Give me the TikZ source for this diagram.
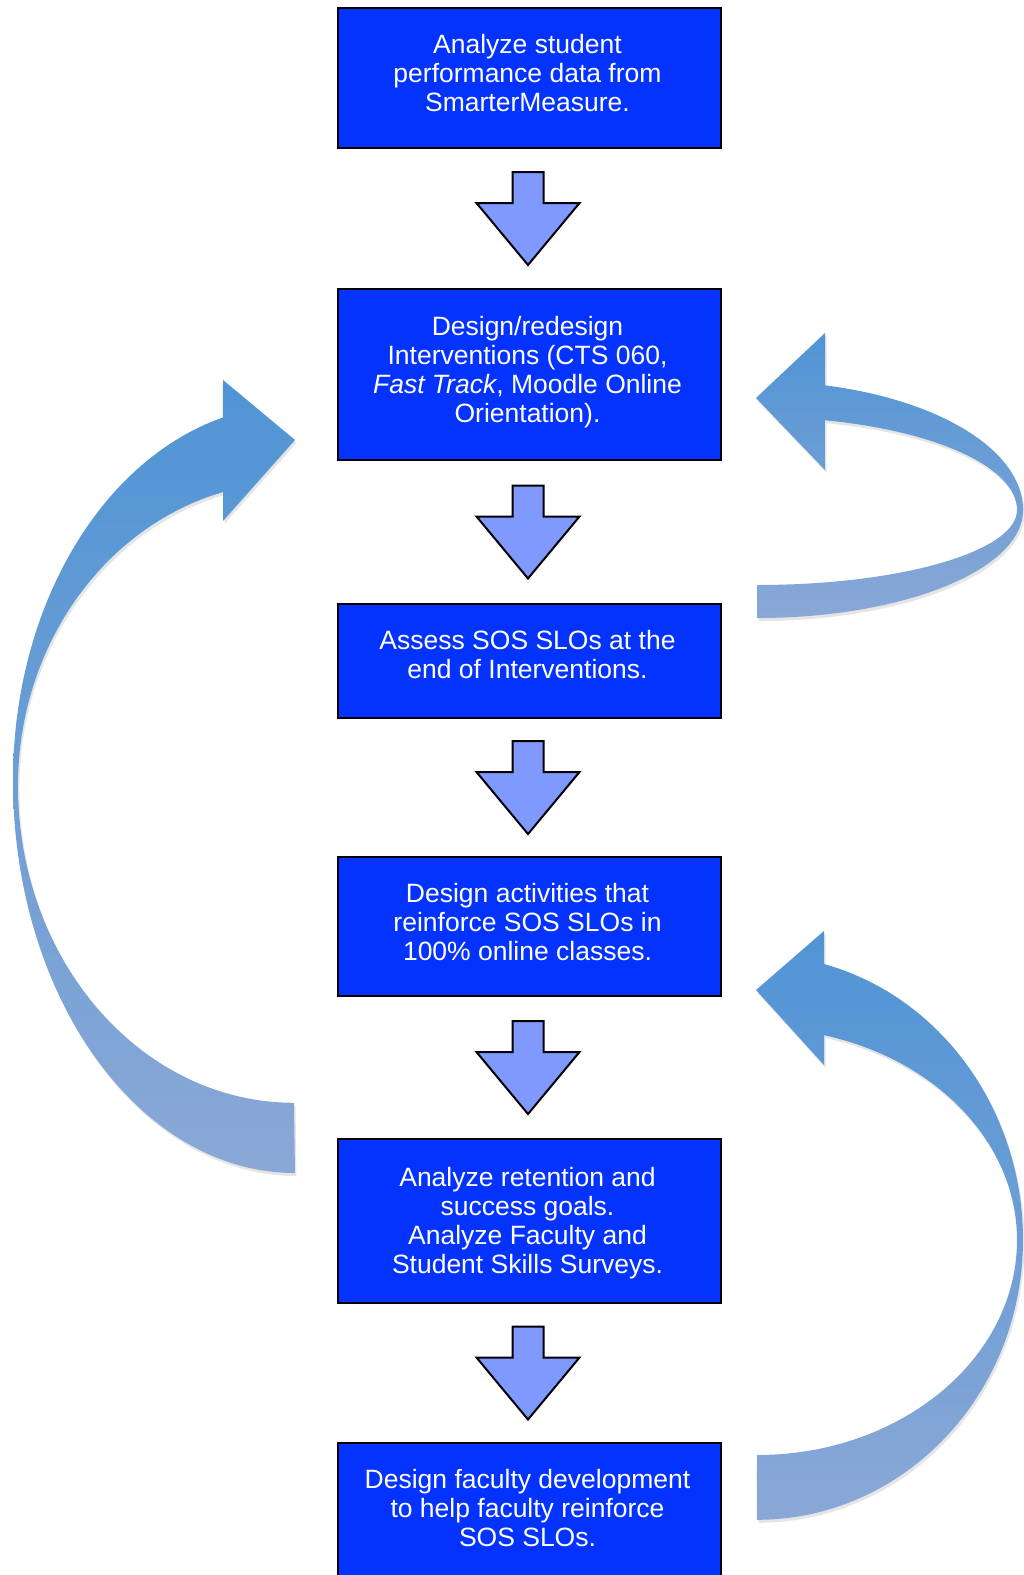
\documentclass[tikz,border=0pt]{standalone}
\usepackage{fontspec}
\setmainfont{Liberation Sans}
\usetikzlibrary{calc}
\definecolor{boxblue}{RGB}{4,51,255}
\definecolor{downfill}{RGB}{128,153,255}
\definecolor{cvtop}{RGB}{80,148,213}
\definecolor{cvmid}{RGB}{106,166,229}
\definecolor{cvbot}{RGB}{138,168,214}
\begin{document}
\begin{tikzpicture}[x=1pt,y=-1pt,
  box/.style={draw=black, line width=2pt, fill=boxblue, minimum width=383pt, inner sep=0pt},
  boxtext/.style={text=white, align=center, font=\fontsize{26.5}{29}\selectfont, inner sep=0pt},
  blockarrow/.style={draw=black, line width=2pt, fill=downfill, line join=miter},
  curvearrow/.style={top color=cvtop, middle color=cvmid, bottom color=cvbot, draw=none,
    preaction={fill=black, opacity=0.10, transform canvas={shift={(1.5pt,-3pt)}}}}]
\useasboundingbox (0,0) rectangle (1024,1575);
\fill[white] (0,0) rectangle (1024,1575);
\clip (0,0) rectangle (1024,1575);

% process boxes
\node[box, minimum height=140pt] (b1) at (529.5,78) {};
\node[box, minimum height=171pt] (b2) at (529.5,374.5) {};
\node[box, minimum height=114pt] (b3) at (529.5,661) {};
\node[box, minimum height=139pt] (b4) at (529.5,926.5) {};
\node[box, minimum height=164pt] (b5) at (529.5,1221) {};
\node[box, minimum height=140pt] (b6) at (529.5,1513) {};

% box texts
\node[boxtext] (t1) at ($(b1.center)+(-2,-5)$) {Analyze student\\performance data from\\SmarterMeasure.};
\node[boxtext] (t2) at ($(b2.center)+(-2,-2)$) {Design/redesign\\Interventions (CTS 060,\\\textit{Fast Track}, Moodle Online\\Orientation).};
\node[boxtext] (t3) at ($(b3.center)+(-2,-6)$) {Assess SOS SLOs at the\\end of Interventions.};
\node[boxtext] (t4) at ($(b4.center)+(-2,-4)$) {Design activities that\\reinforce SOS SLOs in\\100\% online classes.};
\node[boxtext] (t5) at ($(b5.center)+(-2,2)$) {Analyze retention and\\success goals.\\Analyze Faculty and\\Student Skills Surveys.};
\node[boxtext] (t6) at ($(b6.center)+(-2,-5)$) {Design faculty development\\to help faculty reinforce\\SOS SLOs.};

% block down arrows between boxes
\foreach \a/\b [count=\i] in {b1/b2,b2/b3,b3/b4,b4/b5,b5/b6}{
  \coordinate (m\i) at ($(\a.south)!0.5!(\b.north)+(-1.5,0)$);
  \draw[blockarrow] ($(m\i)+(-15.5,-46.5)$) -- ++(31,0) -- ++(0,31) -- ++(36,0)
     -- ++(-51.5,62) -- ++(-51.5,-62) -- ++(36,0) -- cycle;
}

% left curved arrow (from b5 back up to b2)
\path[curvearrow] (295,1173)
  arc[start angle=90, end angle=180, x radius=282, y radius=393]
  arc[start angle=180, end angle=255.2, x radius=282, y radius=375]
  -- (223,380) -- (295,440) -- (223,521) -- (223,492)
  arc[start angle=255.1, end angle=180, x radius=276, y radius=304]
  arc[start angle=180, end angle=90, x radius=276, y radius=317]
  -- cycle;

% right upper curved arrow (from b3 back up to b2)
\path[curvearrow] (825,385.3)
  arc[start angle=-75.2, end angle=0, x radius=266, y radius=129]
  arc[start angle=0, end angle=90, x radius=266, y radius=108]
  -- (757,585)
  arc[start angle=90, end angle=0, x radius=260, y radius=75]
  arc[start angle=0, end angle=-74.85, x radius=260, y radius=93]
  -- (825,470) -- (756,398) -- (825,333) -- cycle;

% right lower curved arrow (from b6 back up to b4)
\path[curvearrow] (824,964)
  arc[start angle=-75.4, end angle=0, x radius=266, y radius=285]
  arc[start angle=0, end angle=90, x radius=266, y radius=280]
  -- (757,1455)
  arc[start angle=90, end angle=0, x radius=260, y radius=215]
  arc[start angle=0, end angle=-75.06, x radius=260, y radius=212]
  -- (824,1065) -- (756,990) -- (824,931) -- cycle;
\end{tikzpicture}
\end{document}
